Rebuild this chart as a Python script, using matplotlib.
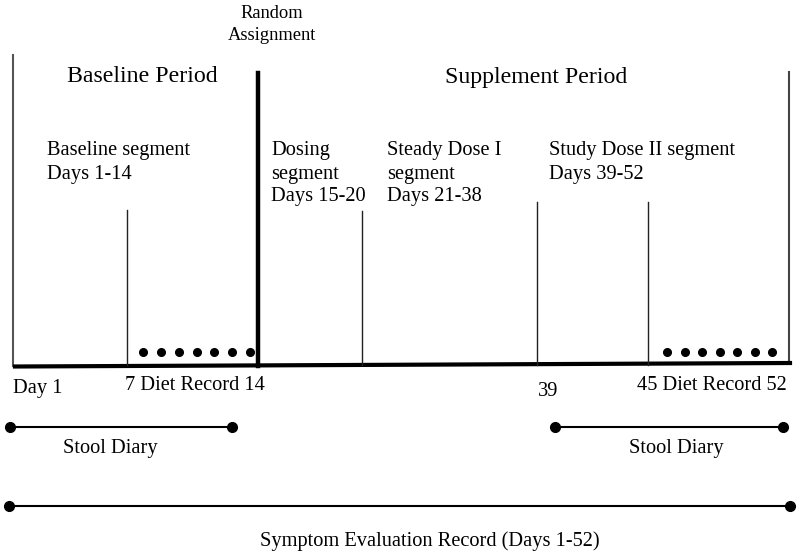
import matplotlib.pyplot as plt

plt.rcParams['font.family'] = ['Liberation Serif', 'DejaVu Serif']

# study layout (schematic, pixel-style coordinates of the original drawing)
period_names = ['Baseline Period', 'Supplement Period']
period_x = [142, 536]

segment_texts = ['Baseline segment\nDays 1-14',
                 'Dosing\nsegment\nDays 15-20',
                 'Steady Dose I\nsegment\nDays 21-38',
                 'Study Dose II segment\nDays 39-52']
segment_x = [47, 271, 387, 549]

# boundary markers on the time line: x, top y
marker_x = [127, 362, 537, 648]
marker_top = [210, 211, 202, 202]

day_labels = ['Day 1', '7 Diet Record 14', '39', '45 Diet Record 52']
day_label_x = [13, 125, 538, 637]
day_label_y = [388, 385, 391, 385]

diet_dots = 7
diet_dot_start = [143, 667]
diet_dot_end = [250, 772]

stool_start = [10, 555]
stool_end = [232, 783]
stool_text_x = [110, 676]

fig = plt.figure(figsize=(8, 5.54), dpi=100)
ax = fig.add_axes([0, 0, 1, 1])
ax.set_xlim(0, 800)
ax.set_ylim(554, 0)
ax.axis('off')

# frame of the time line
ax.plot([13, 13], [55, 366], color='#555555', lw=1.5)
ax.plot([788.5, 788.5], [72, 363], color='#444444', lw=1.5)
ax.plot([15, 790], [366.5, 363], color='black', lw=3)
ax.plot([258, 258], [73, 366], color='black', lw=3.2)

for x, top in zip(marker_x, marker_top):
    ax.plot([x, x], [top, 365], color='#222222', lw=1)

ax.text(272, 13, 'Random', ha='center', va='center', fontsize=13.3)
ax.text(272, 36, 'Assignment', ha='center', va='center', fontsize=13.3)

for name, x in zip(period_names, period_x):
    ax.text(x, 77, name, ha='center', va='center', fontsize=17.2)

for txt, x in zip(segment_texts, segment_x):
    for i, line in enumerate(txt.split('\n')):
        ax.text(x, 151 + 23 * i, line, ha='left', va='center', fontsize=14.7)

for lab, x, y in zip(day_labels, day_label_x, day_label_y):
    ax.text(x, y, lab, ha='left', va='center', fontsize=14.7)

for s, e in zip(diet_dot_start, diet_dot_end):
    step = (e - s) / (diet_dots - 1)
    xs = [s + step * k for k in range(diet_dots)]
    ax.plot(xs, [352] * diet_dots, 'o', color='black', ms=5.5)

for s, e, tx in zip(stool_start, stool_end, stool_text_x):
    ax.plot([s, e], [427, 427], color='black', lw=1.5, marker='o', ms=7)
    ax.text(tx, 448, 'Stool Diary', ha='center', va='center', fontsize=14.7)

ax.plot([9, 790], [506, 506], color='black', lw=1.5, marker='o', ms=7)
ax.text(430, 541, 'Symptom Evaluation Record (Days 1-52)', ha='center', va='center', fontsize=14.7)

fig.savefig('out.png', dpi=100)
